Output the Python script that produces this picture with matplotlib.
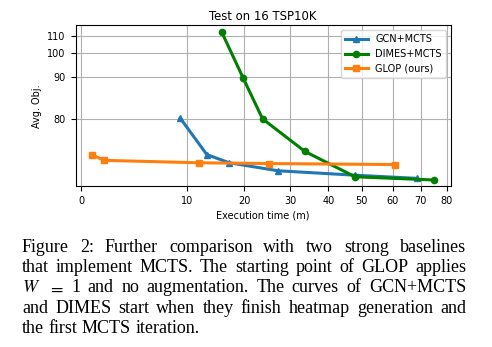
import numpy as np
import matplotlib
matplotlib.use("Agg")
import matplotlib.pyplot as plt

# ---------------- data ----------------
gcn_time = [9.4, 13.5, 17.4, 27.4, 48.0, 68.6]
gcn_obj = [80.1, 75.5, 74.8, 74.2, 73.9, 73.7]

dimes_time = [16.1, 19.8, 24.0, 33.9, 48.0, 75.1]
dimes_obj = [112.5, 89.8, 80.0, 75.8, 73.8, 73.6]

glop_time = [1.0, 2.2, 12.2, 25.4, 60.9]
glop_obj = [75.5, 75.0, 74.8, 74.74, 74.66]

x_ticks = [0, 10, 20, 30, 40, 50, 60, 70, 80]
y_ticks = [80, 90, 100, 110]

title = "Test on 16 TSP10K"
xlabel = "Execution time (m)"
ylabel = "Avg. Obj."
labels = ["GCN+MCTS", "DIMES+MCTS", "GLOP (ours)"]

caption_lines = [
    "Figure 2: Further comparison with two strong baselines",
    "that implement MCTS. The starting point of GLOP applies",
    "$W$ $=$ 1 and no augmentation. The curves of GCN+MCTS",
    "and DIMES start when they finish heatmap generation and",
    "the first MCTS iteration.",
]

# ---------------- style ----------------
plt.rcParams["font.family"] = ["DejaVu Sans"]
plt.rcParams["font.size"] = 7
plt.rcParams["mathtext.fontset"] = "stix"

W, H = 492, 347
fig = plt.figure(figsize=(W / 100, H / 100), dpi=100)
ax_l, ax_r, ax_t, ax_b = 75.5, 450.7, 25.3, 186.3
ax = fig.add_axes([ax_l / W, 1 - ax_b / H, (ax_r - ax_l) / W, (ax_b - ax_t) / H])

# non-linear x scale (compressed towards large times)
_xs = np.array([-10, 0, 10, 20, 30, 40, 50, 60, 70, 80, 100], dtype=float)
_ps = np.array([-105.7, 0, 105.7, 163.3, 209.0, 247.3, 280.7, 311.7, 339.7, 365.7, 415.7])


def fx(x):
    return np.interp(x, _xs, _ps)


def ix(p):
    return np.interp(p, _ps, _xs)


def fy(y):
    return np.log(np.maximum(np.asarray(y, dtype=float) - 70.0, 1e-6))


def iy(t):
    return np.exp(t) + 70.0


ax.set_xscale("function", functions=(fx, ix))
ax.set_yscale("function", functions=(fy, iy))

ax.plot(gcn_time, gcn_obj, color="#1f77b4", marker="^", lw=2.2, ms=4.8, label=labels[0], zorder=3)
ax.plot(dimes_time, dimes_obj, color="green", marker="o", lw=2.2, ms=4.5, label=labels[1], zorder=3)
ax.plot(glop_time, glop_obj, color="#ff7f0e", marker="s", lw=2.2, ms=4.5, label=labels[2], zorder=3)

ax.set_xlim(-0.52, 81.6)
ax.set_ylim(73.24, 117.8)
ax.set_xticks(x_ticks)
ax.set_xticklabels([str(t) for t in x_ticks])
ax.set_yticks(y_ticks)
ax.set_yticklabels([str(t) for t in y_ticks])
ax.minorticks_off()
ax.grid(True, color="#b0b0b0", lw=0.8)
ax.set_axisbelow(True)

ax.set_title(title, fontsize=8.4, pad=4)
ax.set_xlabel(xlabel, labelpad=3)
ax.set_ylabel(ylabel, labelpad=4)
ax.legend(loc="upper right", fontsize=7, handlelength=2.3)

# ---------------- caption (justified) ----------------
cap_fs = 13.0
cap_left, cap_right = 22.0, 466.0
baseline0, line_gap = 251.7, 20.4
fig.canvas.draw()
renderer = fig.canvas.get_renderer()


def _w(s):
    t = fig.text(0, 0, s, family="Liberation Serif", fontsize=cap_fs)
    wd = t.get_window_extent(renderer).width
    t.remove()
    return wd


natural_gap = _w("a b") - _w("ab")
for i, line in enumerate(caption_lines):
    words = line.split(" ")
    y = 1 - (baseline0 + i * line_gap) / H
    texts = []
    for w in words:
        t = fig.text(0, y, w, family="Liberation Serif", fontsize=cap_fs,
                     va="baseline", ha="left")
        texts.append(t)
    widths = [t.get_window_extent(renderer).width for t in texts]
    if i == len(caption_lines) - 1:
        gap = natural_gap
    else:
        gap = (cap_right - cap_left - sum(widths)) / (len(words) - 1)
    x = cap_left
    for t, wd in zip(texts, widths):
        t.set_x(x / W)
        x += wd + gap

fig.savefig("out.png", dpi=100)
